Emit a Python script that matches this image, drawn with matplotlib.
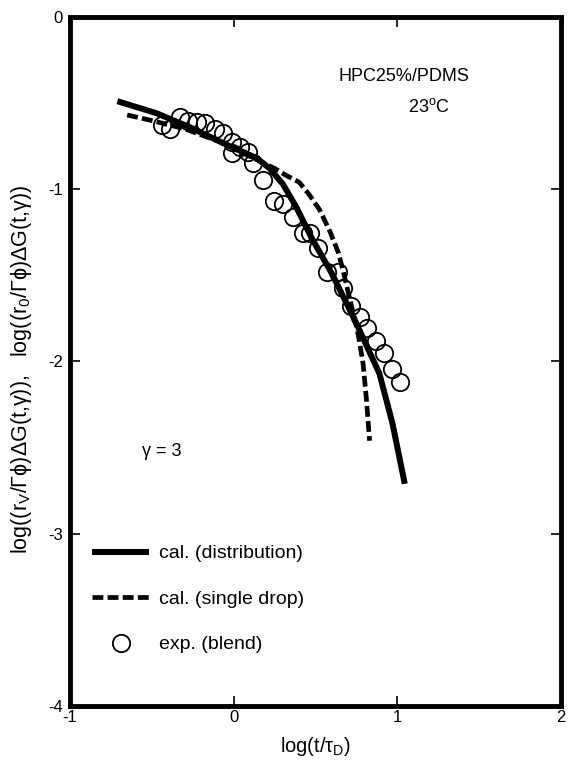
import numpy as np
import matplotlib
matplotlib.use('Agg')
import matplotlib.pyplot as plt

plt.rcParams['font.family'] = ['Liberation Sans', 'DejaVu Sans']
plt.rcParams['mathtext.fontset'] = 'custom'
plt.rcParams['mathtext.rm'] = 'Liberation Sans'
plt.rcParams['mathtext.it'] = 'Liberation Sans:italic'
plt.rcParams['axes.unicode_minus'] = False

# cal. (distribution)
dist_x = [-0.71, -0.47, -0.27, -0.07, 0.14, 0.22, 0.30, 0.38, 0.48, 0.60, 0.75, 0.89, 0.97, 1.045]
dist_y = [-0.49, -0.56, -0.64, -0.73, -0.82, -0.88, -0.97, -1.10, -1.29, -1.49, -1.78, -2.07, -2.36, -2.71]

# cal. (single drop)
drop_x = [-0.65, -0.51, -0.30, -0.10, 0.10, 0.25, 0.32, 0.40, 0.46, 0.525, 0.59, 0.64, 0.67, 0.71, 0.76, 0.79, 0.81, 0.83]
drop_y = [-0.57, -0.60, -0.65, -0.72, -0.81, -0.88, -0.92, -0.96, -1.03, -1.12, -1.25, -1.37, -1.48, -1.64, -1.84, -2.01, -2.21, -2.46]

# exp. (blend)
exp_x = [-0.44, -0.391, -0.330, -0.281, -0.226, -0.177, -0.116, -0.067, -0.012, -0.012,
         0.037, 0.086, 0.116, 0.177, 0.244, 0.299, 0.360, 0.421, 0.464, 0.513,
         0.568, 0.635, 0.666, 0.715, 0.770, 0.812, 0.867, 0.916, 0.965, 1.014]
exp_y = [-0.627, -0.650, -0.581, -0.604, -0.610, -0.615, -0.650, -0.673, -0.726, -0.790,
         -0.755, -0.784, -0.848, -0.946, -1.068, -1.086, -1.161, -1.254, -1.254, -1.341,
         -1.480, -1.480, -1.573, -1.678, -1.742, -1.806, -1.881, -1.951, -2.044, -2.119]

xticks = [-1, 0, 1, 2]
yticks = [0, -1, -2, -3, -4]

fig = plt.figure(figsize=(5.68, 7.61), dpi=100)
ax = fig.add_axes([0.123, 0.072, 0.865, 0.906])

ax.plot(dist_x, dist_y, color='black', lw=4.3, solid_capstyle='butt',
        solid_joinstyle='round', label='cal. (distribution)')
ax.plot(drop_x, drop_y, color='black', lw=3.4, ls=(0, (2.3, 0.9)),
        label='cal. (single drop)')
ax.plot(exp_x, exp_y, 'o', mfc='none', mec='black', ms=12.5, mew=1.3,
        label='exp. (blend)')

ax.set_xlim(-1, 2)
ax.set_ylim(-4, 0)
ax.set_xticks(xticks)
ax.set_yticks(yticks)
ax.set_xticklabels([str(t) for t in xticks])
ax.set_yticklabels([str(t) for t in yticks])
ax.tick_params(direction='in', length=7, width=1.2, top=True, right=True,
               labelsize=12)
ax.tick_params(axis='y', pad=5)
ax.tick_params(axis='x', pad=3)
for s in ax.spines.values():
    s.set_linewidth(3.5)

ax.set_xlabel('log(t/τ$_\\mathrm{D}$)', fontsize=14.5, labelpad=7)
ax.set_ylabel('log((r$_\\mathrm{V}$/Γϕ)ΔG(t,γ)),   log((r$_0$/Γϕ)ΔG(t,γ))',
              fontsize=15.5)
ax.yaxis.set_label_coords(-0.072, 0.488)

ax.text(0.68, 0.913, 'HPC25%/PDMS', transform=ax.transAxes, ha='center',
        va='center', fontsize=13)
ax.text(0.73, 0.869, '23$^\\mathrm{o}$C', transform=ax.transAxes, ha='center',
        va='center', fontsize=13)
ax.text(0.147, 0.369, 'γ = 3', transform=ax.transAxes, ha='left',
        va='center', fontsize=13)

ax.legend(loc='upper left', bbox_to_anchor=(0.045, 0.234), frameon=False,
          fontsize=14, handlelength=2.95, labelspacing=1.43, handletextpad=0.5,
          borderpad=0, borderaxespad=0, numpoints=1)

fig.savefig('out.png', dpi=100)
